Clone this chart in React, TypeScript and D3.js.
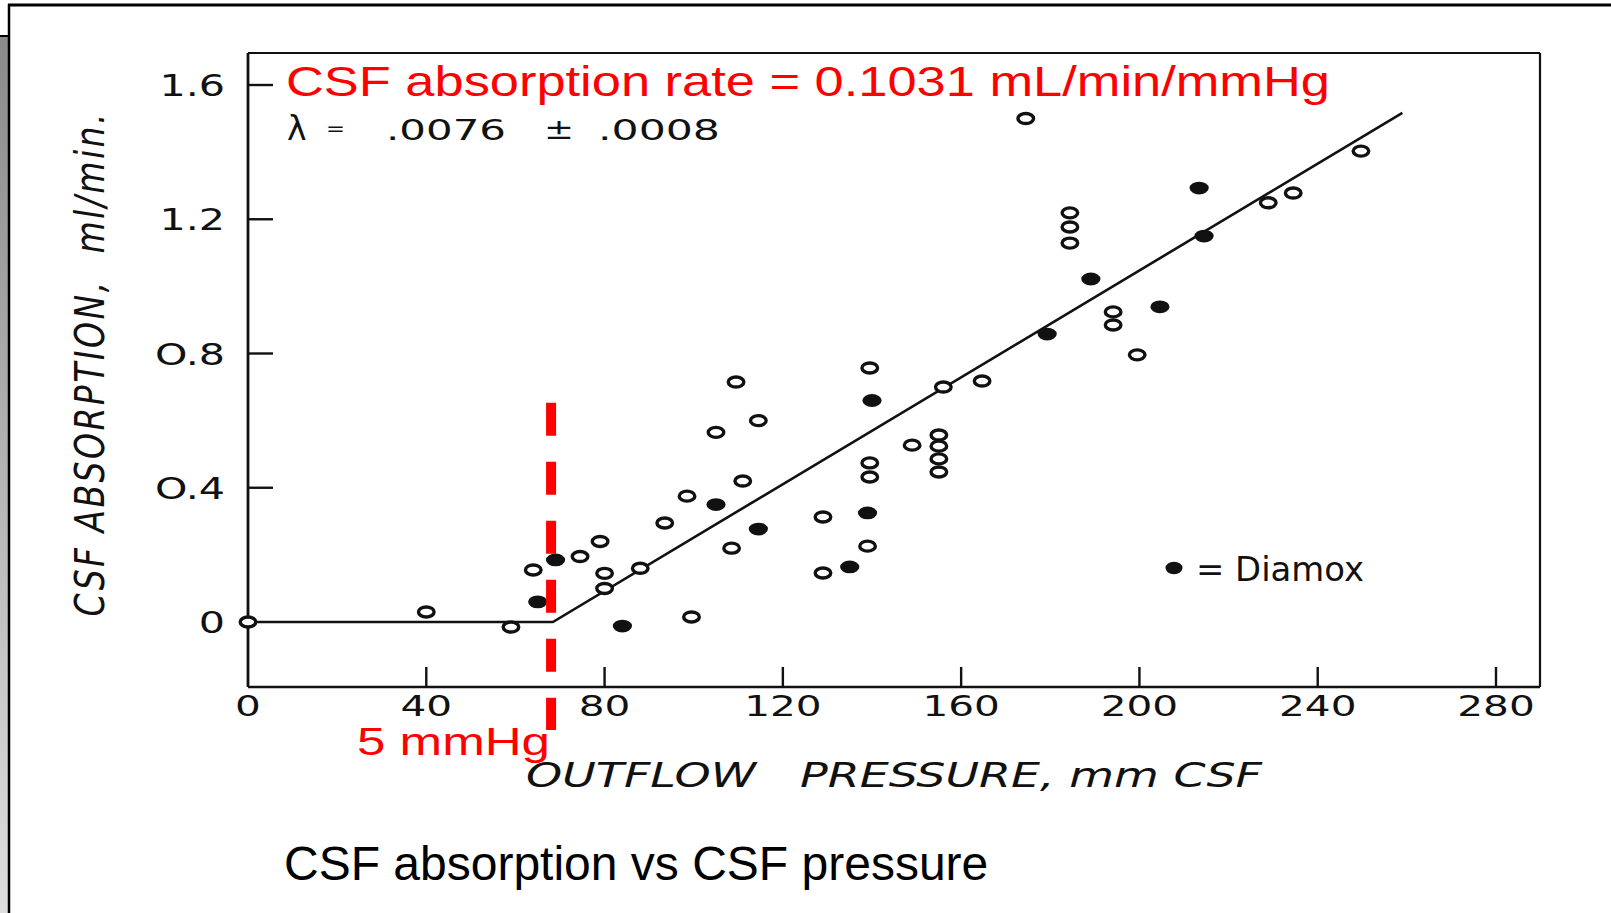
import React from 'react';
import * as d3 from 'd3';

// ---- data ----
const xTicks = [0, 40, 80, 120, 160, 200, 240, 280];
const yTicks = [0, 0.4, 0.8, 1.2, 1.6];
const yTickLabels = ['0', 'O.4', 'O.8', '1.2', '1.6'];

// open circles (control): outflow pressure (mm CSF), absorption (ml/min)
const controlX = [0, 40, 59, 64, 74.5, 79, 80, 80, 88, 93.5, 98.5, 99.5, 105, 109.5, 108.5, 111, 114.5, 129, 129, 139.5, 139.5, 139.5, 139, 149, 155, 155, 155, 155, 156, 164.7, 174.5, 184.4, 184.4, 184.4, 194.1, 194.1, 199.5, 228.9, 234.5, 249.7];
const controlY = [0, 0.03, -0.015, 0.155, 0.195, 0.24, 0.145, 0.1, 0.16, 0.295, 0.375, 0.015, 0.565, 0.715, 0.22, 0.42, 0.6, 0.313, 0.146, 0.757, 0.474, 0.432, 0.226, 0.527, 0.557, 0.524, 0.486, 0.447, 0.7, 0.718, 1.5, 1.219, 1.177, 1.129, 0.924, 0.885, 0.796, 1.249, 1.278, 1.403];

// filled circles (Diamox)
const diamoxX = [65, 69, 84, 105, 114.5, 135, 140, 139, 179.3, 189.1, 204.6, 213.4, 214.5];
const diamoxY = [0.06, 0.185, -0.012, 0.35, 0.277, 0.164, 0.66, 0.325, 0.858, 1.022, 0.939, 1.293, 1.15];

// fitted broken line
const fitX = [0, 68.4, 259];
const fitY = [0, 0, 1.517];

// 5 mmHg threshold (mm CSF) and vertical extent of dashed marker
const thresholdX = 68;
const thresholdYRange = [-0.322, 0.653];

const W = 1611;
const H = 913;
const plotLeft = 248;
const plotRight = 1540;
const plotTop = 53;
const plotBottom = 687;

export default function App() {
  const x = d3.scaleLinear().domain([0, 280]).range([plotLeft, 1496]);
  const y = d3.scaleLinear().domain([0, 1.6]).range([622, 85]);

  const fitPts: [number, number][] = fitX.map((v, i) => [v, fitY[i]]);
  const fitLine = d3.line<[number, number]>().x(d => x(d[0])).y(d => y(d[1]))(fitPts) || '';

  const tickFont = '"DejaVu Sans", sans-serif';
  const italicFont = '"DejaVu Sans", sans-serif';
  const arial = '"Liberation Sans", Arial, sans-serif';

  return (
    <div style={{ position: 'absolute', left: 0, top: 0 }}>
      <svg width={W} height={H} viewBox={`0 0 ${W} ${H}`} style={{ display: 'block', background: '#fff' }}>
        <defs>
          <linearGradient id="sidebar" x1="0" y1="0" x2="0" y2="1">
            <stop offset="0" stopColor="#8a8a8a" />
            <stop offset="1" stopColor="#dedede" />
          </linearGradient>
        </defs>
        {/* slide frame */}
        <rect x={0} y={36} width={9} height={H - 36} fill="url(#sidebar)" />
        <line x1={0} x2={9} y1={36} y2={36} stroke="#000" strokeWidth={2} />
        <line x1={8} x2={W} y1={5} y2={5} stroke="#000" strokeWidth={3} />
        <line x1={9} x2={9} y1={4} y2={H} stroke="#000" strokeWidth={2.5} />

        {/* plot frame */}
        <line x1={plotLeft} x2={plotRight} y1={plotTop} y2={plotTop} stroke="#111" strokeWidth={2} />
        <line x1={plotRight} x2={plotRight} y1={plotTop} y2={plotBottom} stroke="#111" strokeWidth={2.2} />
        <line x1={plotLeft} x2={plotRight} y1={plotBottom} y2={plotBottom} stroke="#111" strokeWidth={2.6} />
        <line x1={plotLeft} x2={plotLeft} y1={plotTop} y2={plotBottom} stroke="#111" strokeWidth={2.8} />

        {/* x ticks */}
        {xTicks.filter(t => t > 0).map(t => (
          <line key={'xt' + t} x1={x(t)} x2={x(t)} y1={plotBottom} y2={plotBottom - 20} stroke="#111" strokeWidth={2.4} />
        ))}
        {xTicks.map(t => (
          <text key={'xl' + t} transform={`translate(${x(t)},716) scale(1.45,1)`} textAnchor="middle"
            fontFamily={tickFont} fontSize={28} fill="#111">{String(t)}</text>
        ))}

        {/* y ticks */}
        {yTicks.filter(t => t > 0).map(t => (
          <line key={'yt' + t} x1={plotLeft} x2={plotLeft + 25} y1={y(t)} y2={y(t)} stroke="#111" strokeWidth={2.4} />
        ))}
        {yTicks.map((t, i) => (
          <text key={'yl' + t} transform={`translate(225,${y(t) + 11}) scale(1.33,1)`} textAnchor="end"
            fontFamily={tickFont} fontSize={31} fill="#111">{yTickLabels[i]}</text>
        ))}

        {/* axis titles */}
        <text transform="translate(104,365) scale(1.25,1) rotate(-90)" textAnchor="middle"
          fontFamily={italicFont} fontStyle="italic" fontSize={33} fill="#111"
          textLength={503} lengthAdjust="spacing" style={{ whiteSpace: 'pre' }}>
          {'CSF ABSORPTION,  ml/min.'}
        </text>
        <text x={526} y={787} fontFamily={italicFont} fontStyle="italic" fontSize={33} fill="#111"
          textLength={736} lengthAdjust="spacingAndGlyphs" style={{ whiteSpace: 'pre' }}>
          {'OUTFLOW   PRESSURE, mm CSF'}
        </text>

        {/* fitted line */}
        <path d={fitLine} fill="none" stroke="#111" strokeWidth={2.6} />

        {/* control (open) */}
        {controlX.map((v, i) => (
          <ellipse key={'c' + i} cx={x(v)} cy={y(controlY[i])} rx={7.8} ry={5.0}
            fill="#fff" stroke="#111" strokeWidth={3.4} />
        ))}
        {/* diamox (filled) */}
        {diamoxX.map((v, i) => (
          <ellipse key={'d' + i} cx={x(v)} cy={y(diamoxY[i])} rx={9.6} ry={6.4} fill="#111" />
        ))}

        {/* threshold dashed line */}
        <line x1={x(thresholdX)} x2={x(thresholdX)} y1={y(thresholdYRange[1])} y2={y(thresholdYRange[0])}
          stroke="#ff0000" strokeWidth={10} strokeDasharray="33 26" />

        {/* annotations */}
        <text x={286} y={96} fontFamily={arial} fontSize={42} fill="#ff0000"
          textLength={1044} lengthAdjust="spacingAndGlyphs">CSF absorption rate = 0.1031 mL/min/mmHg</text>
        <text x={287} y={140} fontFamily={tickFont} fontSize={33} fill="#111">λ</text>
        <text x={326} y={135} fontFamily={tickFont} fontSize={20} fill="#111" textLength={19} lengthAdjust="spacingAndGlyphs">=</text>
        <text x={386} y={140} fontFamily={tickFont} fontSize={28} fill="#111" textLength={120} lengthAdjust="spacingAndGlyphs">.0076</text>
        <text x={544} y={139} fontFamily={tickFont} fontSize={28} fill="#111" textLength={30} lengthAdjust="spacingAndGlyphs">±</text>
        <text x={598} y={140} fontFamily={tickFont} fontSize={28} fill="#111" textLength={122} lengthAdjust="spacingAndGlyphs">.0008</text>

        <text x={357} y={755} fontFamily={arial} fontSize={39} fill="#ff0000"
          textLength={193} lengthAdjust="spacingAndGlyphs">5 mmHg</text>

        {/* legend */}
        <ellipse cx={1174} cy={568} rx={8.5} ry={6.2} fill="#111" />
        <text x={1196} y={581} fontFamily={tickFont} fontSize={33} fill="#111"
          textLength={168} lengthAdjust="spacingAndGlyphs">= Diamox</text>

        {/* slide caption */}
        <text x={284} y={880} fontFamily={arial} fontSize={48} fill="#000">CSF absorption vs CSF pressure</text>
      </svg>
    </div>
  );
}
